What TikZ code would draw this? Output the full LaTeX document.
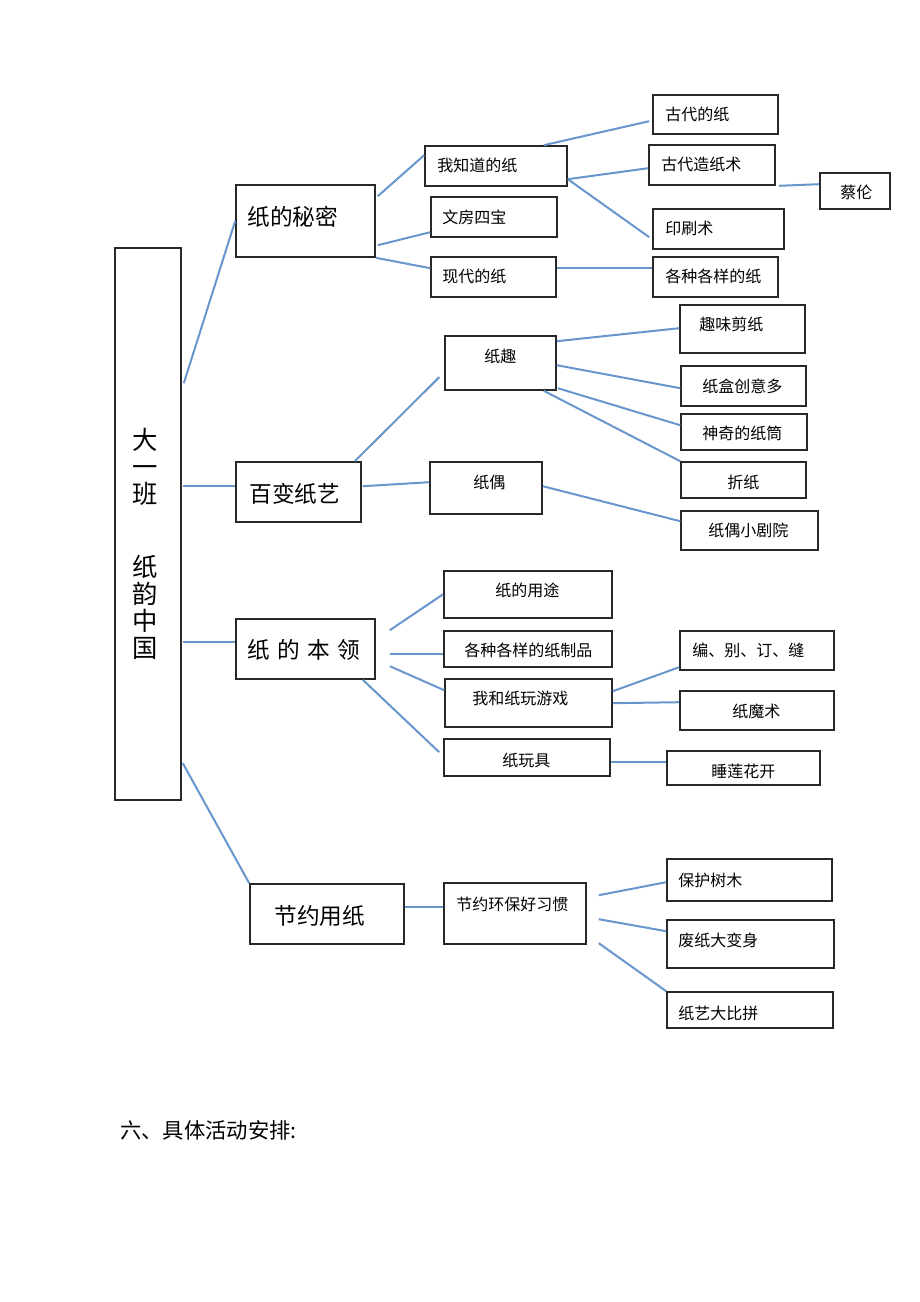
\documentclass[tikz,border=0pt]{standalone}
\usepackage{fontspec}
\newfontfamily\cjk{Noto Sans CJK SC}
\usetikzlibrary{fit,calc}
\definecolor{wireblue}{RGB}{104,150,204}
\definecolor{boxgray}{RGB}{40,40,40}

\begin{document}
\begin{tikzpicture}[x=0.75pt,y=-0.75pt,
	box/.style={draw=boxgray,line width=1.2pt,inner sep=0pt},
	wire/.style={draw=wireblue,line width=1.5pt},
	txt/.style={anchor=west,inner sep=0pt,yshift=-1.5pt,font=\cjk\fontsize{12}{14}\selectfont},
	big/.style={anchor=west,inner sep=0pt,yshift=-1.5pt,font=\cjk\fontsize{17}{20}\selectfont}]
	\useasboundingbox (0,0) rectangle (920,1302);
	% main column
	\node[box,fit={(115,248) (181,800)}] (main) {};
	\node[inner sep=0pt,align=center,font=\cjk\fontsize{19}{20.25}\selectfont] (main-t) at (145,544) {大\\一\\班\\[34pt]纸\\韵\\中\\国};
	% first level
	\node[box,fit={(236,185) (375,257)}] (mimi) {};
	\node[big] (mimi-t) at ($(mimi.north west)+(12,31)$) {纸的秘密};
	\node[box,fit={(236,462) (361,522)}] (baibian) {};
	\node[big] (baibian-t) at ($(baibian.north west)+(14,31)$) {百变纸艺};
	\node[box,fit={(236,619) (375,679)}] (benling) {};
	\node[big] (benling-t) at ($(benling.north west)+(12,30)$) {纸\hspace{5.5pt}的\hspace{5.5pt}本\hspace{5.5pt}领};
	\node[box,fit={(250,884) (404,944)}] (jieyue) {};
	\node[big] (jieyue-t) at ($(jieyue.north west)+(25,31)$) {节约用纸};
	% 纸的秘密
	\node[box,fit={(425,146) (567,186)}] (zhidao) {};
	\node[txt] (zhidao-t) at ($(zhidao.north west)+(13,18)$) {我知道的纸};
	\node[box,fit={(431,197) (557,237)}] (wenfang) {};
	\node[txt] (wenfang-t) at ($(wenfang.north west)+(12,19)$) {文房四宝};
	\node[box,fit={(431,257) (556,297)}] (xiandai) {};
	\node[txt] (xiandai-t) at ($(xiandai.north west)+(12,18)$) {现代的纸};
	\node[box,fit={(653,95) (778,134)}] (gudai) {};
	\node[txt] (gudai-t) at ($(gudai.north west)+(13,18)$) {古代的纸};
	\node[box,fit={(649,145) (775,185)}] (zaozhi) {};
	\node[txt] (zaozhi-t) at ($(zaozhi.north west)+(13,18)$) {古代造纸术};
	\node[box,fit={(820,173) (890,209)}] (cailun) {};
	\node[txt] (cailun-t) at ($(cailun.north west)+(21,18)$) {蔡伦};
	\node[box,fit={(653,209) (784,249)}] (yinshua) {};
	\node[txt] (yinshua-t) at ($(yinshua.north west)+(13,18)$) {印刷术};
	\node[box,fit={(653,257) (778,297)}] (gezhong) {};
	\node[txt] (gezhong-t) at ($(gezhong.north west)+(13,18)$) {各种各样的纸};
	% 百变纸艺
	\node[box,fit={(445,336) (556,390)}] (zhiqu) {};
	\node[txt] (zhiqu-t) at ($(zhiqu.north west)+(40,19)$) {纸趣};
	\node[box,fit={(430,462) (542,514)}] (zhiou) {};
	\node[txt] (zhiou-t) at ($(zhiou.north west)+(44,19)$) {纸偶};
	\node[box,fit={(680,305) (805,353)}] (jianzhi) {};
	\node[txt] (jianzhi-t) at ($(jianzhi.north west)+(20,18)$) {趣味剪纸};
	\node[box,fit={(681,366) (806,406)}] (zhihe) {};
	\node[txt] (zhihe-t) at ($(zhihe.north west)+(22,19)$) {纸盒创意多};
	\node[box,fit={(681,414) (807,450)}] (zhitong) {};
	\node[txt] (zhitong-t) at ($(zhitong.north west)+(22,18)$) {神奇的纸筒};
	\node[box,fit={(681,462) (806,498)}] (zhezhi) {};
	\node[txt] (zhezhi-t) at ($(zhezhi.north west)+(47,19)$) {折纸};
	\node[box,fit={(681,511) (818,550)}] (juyuan) {};
	\node[txt] (juyuan-t) at ($(juyuan.north west)+(28,18)$) {纸偶小剧院};
	% 纸的本领
	\node[box,fit={(444,571) (612,618)}] (yongtu) {};
	\node[txt] (yongtu-t) at ($(yongtu.north west)+(52,18)$) {纸的用途};
	\node[box,fit={(444,631) (612,667)}] (zhipin) {};
	\node[txt] (zhipin-t) at ($(zhipin.north west)+(21,18)$) {各种各样的纸制品};
	\node[box,fit={(445,679) (612,727)}] (youxi) {};
	\node[txt] (youxi-t) at ($(youxi.north west)+(28,18)$) {我和纸玩游戏};
	\node[box,fit={(444,739) (610,776)}] (wanju) {};
	\node[txt] (wanju-t) at ($(wanju.north west)+(59,20)$) {纸玩具};
	\node[box,fit={(680,631) (834,670)}] (bian) {};
	\node[txt] (bian-t) at ($(bian.north west)+(13,18)$) {编、别、订、缝};
	\node[box,fit={(680,691) (834,730)}] (moshu) {};
	\node[txt] (moshu-t) at ($(moshu.north west)+(53,19)$) {纸魔术};
	\node[box,fit={(667,751) (820,785)}] (shuilian) {};
	\node[txt] (shuilian-t) at ($(shuilian.north west)+(45,19)$) {睡莲花开};
	% 节约用纸
	\node[box,fit={(444,883) (586,944)}] (xiguan) {};
	\node[txt] (xiguan-t) at ($(xiguan.north west)+(13,20)$) {节约环保好习惯};
	\node[box,fit={(667,859) (832,901)}] (shumu) {};
	\node[txt] (shumu-t) at ($(shumu.north west)+(12,20)$) {保护树木};
	\node[box,fit={(667,920) (834,968)}] (bianshen) {};
	\node[txt] (bianshen-t) at ($(bianshen.north west)+(12,19)$) {废纸大变身};
	\node[box,fit={(667,992) (833,1028)}] (bipin) {};
	\node[txt] (bipin-t) at ($(bipin.north west)+(12,20)$) {纸艺大比拼};
	% connectors
	\draw[wire] ($(main.north east)+(2,136)$) -- (mimi.west);
	\draw[wire] ($(main.north east)+(1,239)$) -- ($(baibian.north west)+(0,25)$);
	\draw[wire] ($(main.north east)+(1,395)$) -- ($(benling.north west)+(0,24)$);
	\draw[wire] ($(main.north east)+(1,516)$) -- (jieyue.north west);
	\draw[wire] ($(mimi.north east)+(2,12)$) -- ($(zhidao.north west)+(0,10)$);
	\draw[wire] ($(mimi.north east)+(2,61)$) -- ($(wenfang.north west)+(0,36)$);
	\draw[wire] (mimi.south east) -- ($(xiandai.north west)+(0,12)$);
	\draw[wire] ($(zhidao.north east)+(-24,0)$) -- ($(gudai.north west)+(-3,27)$);
	\draw[wire] ($(zhidao.north east)+(0,34)$) -- ($(zaozhi.north west)+(0,24)$);
	\draw[wire] ($(zhidao.north east)+(0,34)$) -- ($(yinshua.north west)+(-3,29)$);
	\draw[wire] ($(zaozhi.south east)+(3,0)$) -- ($(cailun.north west)+(0,12)$);
	\draw[wire] ($(xiandai.north east)+(0,12)$) -- ($(gezhong.north west)+(0,12)$);
	\draw[wire] ($(baibian.north east)+(-7,0)$) -- ($(zhiqu.north west)+(-5,42)$);
	\draw[wire] ($(baibian.north east)+(1,25)$) -- ($(zhiou.north west)+(0,21)$);
	\draw[wire] ($(zhiqu.north east)+(0,6)$) -- ($(jianzhi.north west)+(0,24)$);
	\draw[wire] ($(zhiqu.north east)+(0,30)$) -- ($(zhihe.north west)+(0,23)$);
	\draw[wire] ($(zhiqu.north east)+(1,53)$) -- ($(zhitong.north west)+(0,12)$);
	\draw[wire] ($(zhiqu.south east)+(-13,0)$) -- (zhezhi.north west);
	\draw[wire] ($(zhiou.north east)+(0,25)$) -- ($(juyuan.north west)+(0,11)$);
	\draw[wire] ($(benling.north east)+(14,12)$) -- ($(yongtu.north west)+(0,24)$);
	\draw[wire] ($(benling.north east)+(14,36)$) -- ($(zhipin.north west)+(0,24)$);
	\draw[wire] ($(benling.north east)+(14,48)$) -- ($(youxi.north west)+(0,12)$);
	\draw[wire] ($(benling.south east)+(-13,0)$) -- ($(wanju.north west)+(-4,14)$);
	\draw[wire] ($(youxi.north east)+(0,13)$) -- ($(bian.north west)+(0,37)$);
	\draw[wire] ($(youxi.north east)+(0,25)$) -- ($(moshu.north west)+(0,12)$);
	\draw[wire] ($(wanju.north east)+(0,24)$) -- ($(shuilian.north west)+(0,12)$);
	\draw[wire] ($(jieyue.north east)+(0,24)$) -- ($(xiguan.north west)+(0,25)$);
	\draw[wire] ($(xiguan.north east)+(12,13)$) -- ($(shumu.north west)+(0,24)$);
	\draw[wire] ($(xiguan.north east)+(12,37)$) -- ($(bianshen.north west)+(0,12)$);
	\draw[wire] ($(xiguan.north east)+(12,61)$) -- (bipin.north west);
	% heading below
	\node[anchor=west,inner sep=0pt,font=\cjk\fontsize{16}{18}\selectfont] (foot) at (120,1130) {六、具体活动安排:};
\end{tikzpicture}
\end{document}
